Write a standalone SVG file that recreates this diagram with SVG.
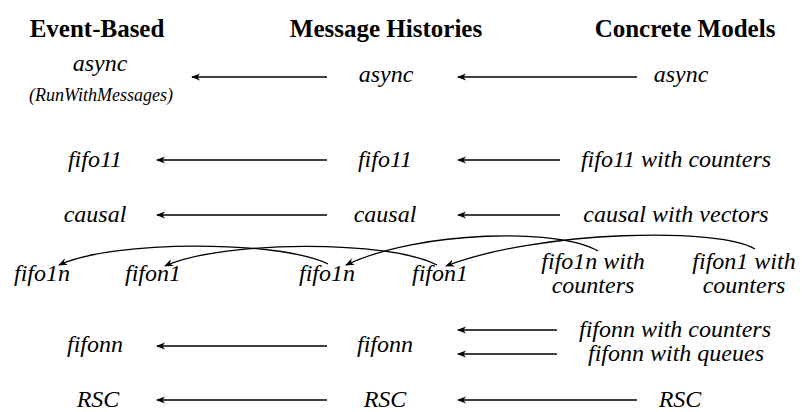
<svg xmlns="http://www.w3.org/2000/svg" width="802" height="412" viewBox="0 0 802 412">
<defs>
<marker id="ah" viewBox="0 0 10 10" refX="9" refY="5" markerWidth="9" markerHeight="9" markerUnits="userSpaceOnUse" orient="auto">
<path d="M0,1 L10,5 L0,9 L3,5 z" fill="#000"/>
</marker>
</defs>
<rect width="802" height="412" fill="#fff"/>
<g id="headers" text-anchor="middle" fill="#000">
<text font-family="Liberation Serif" font-weight="bold" font-size="25" x="97" y="37">Event-Based</text>
<text font-family="Liberation Serif" font-weight="bold" font-size="25" x="386" y="37">Message Histories</text>
<text font-family="Liberation Serif" font-weight="bold" font-size="25" x="685" y="37">Concrete Models</text>
</g>
<g id="nodes" text-anchor="middle" fill="#000">
<g id="n-async-eb"><text font-family="Liberation Serif" font-style="italic" font-size="24" x="100" y="71">async</text><text font-family="Liberation Serif" font-style="italic" font-size="18" x="101" y="101">(RunWithMessages)</text></g>
<g id="n-async-mh"><text font-family="Liberation Serif" font-style="italic" font-size="24" x="386" y="82">async</text></g>
<g id="n-async-cm"><text font-family="Liberation Serif" font-style="italic" font-size="24" x="681" y="82">async</text></g>
<g id="n-fifo11-eb"><text font-family="Liberation Serif" font-style="italic" font-size="24" x="95" y="167">fifo11</text></g>
<g id="n-fifo11-mh"><text font-family="Liberation Serif" font-style="italic" font-size="24" x="385" y="167">fifo11</text></g>
<g id="n-fifo11-cm"><text font-family="Liberation Serif" font-style="italic" font-size="24" x="676" y="167">fifo11 with counters</text></g>
<g id="n-causal-eb"><text font-family="Liberation Serif" font-style="italic" font-size="24" x="95" y="222">causal</text></g>
<g id="n-causal-mh"><text font-family="Liberation Serif" font-style="italic" font-size="24" x="385" y="222">causal</text></g>
<g id="n-causal-cm"><text font-family="Liberation Serif" font-style="italic" font-size="24" x="676" y="222">causal with vectors</text></g>
<g id="n-fifo1n-eb"><text font-family="Liberation Serif" font-style="italic" font-size="24" x="42" y="281">fifo1n</text></g>
<g id="n-fifon1-eb"><text font-family="Liberation Serif" font-style="italic" font-size="24" x="153" y="281">fifon1</text></g>
<g id="n-fifo1n-mh"><text font-family="Liberation Serif" font-style="italic" font-size="24" x="327" y="281">fifo1n</text></g>
<g id="n-fifon1-mh"><text font-family="Liberation Serif" font-style="italic" font-size="24" x="440" y="281">fifon1</text></g>
<g id="n-fifo1n-cm"><text font-family="Liberation Serif" font-style="italic" font-size="24" x="593" y="269">fifo1n with</text><text font-family="Liberation Serif" font-style="italic" font-size="24" x="593" y="293">counters</text></g>
<g id="n-fifon1-cm"><text font-family="Liberation Serif" font-style="italic" font-size="24" x="744" y="269">fifon1 with</text><text font-family="Liberation Serif" font-style="italic" font-size="24" x="744" y="293">counters</text></g>
<g id="n-fifonn-eb"><text font-family="Liberation Serif" font-style="italic" font-size="24" x="95" y="352">fifonn</text></g>
<g id="n-fifonn-mh"><text font-family="Liberation Serif" font-style="italic" font-size="24" x="385" y="352">fifonn</text></g>
<g id="n-fifonn-cm1"><text font-family="Liberation Serif" font-style="italic" font-size="24" x="675" y="337">fifonn with counters</text></g>
<g id="n-fifonn-cm2"><text font-family="Liberation Serif" font-style="italic" font-size="24" x="676" y="361">fifonn with queues</text></g>
<g id="n-rsc-eb"><text font-family="Liberation Serif" font-style="italic" font-size="24" x="98" y="407">RSC</text></g>
<g id="n-rsc-mh"><text font-family="Liberation Serif" font-style="italic" font-size="24" x="385" y="407">RSC</text></g>
<g id="n-rsc-cm"><text font-family="Liberation Serif" font-style="italic" font-size="24" x="680" y="407">RSC</text></g>
</g>
<g id="connectors" fill="none" stroke="#000" stroke-width="1.3" marker-end="url(#ah)">
<path d="M327,77 H192"/>
<path d="M637,77 H458"/>
<path d="M327,160 H157"/>
<path d="M560,160 H458"/>
<path d="M327,215 H157"/>
<path d="M560,215 H458"/>
<path d="M328,264 C280,240 112,240 59,265"/>
<path d="M437,265 C390,240 222,240 165,266"/>
<path d="M598,251 C560,228 420,230 346,265"/>
<path d="M755,249 C720,227 540,230 446,266"/>
<path d="M327,346 H157"/>
<path d="M557,330 H458"/>
<path d="M557,354 H458"/>
<path d="M327,400 H157"/>
<path d="M637,400 H458"/>
</g>
</svg>
